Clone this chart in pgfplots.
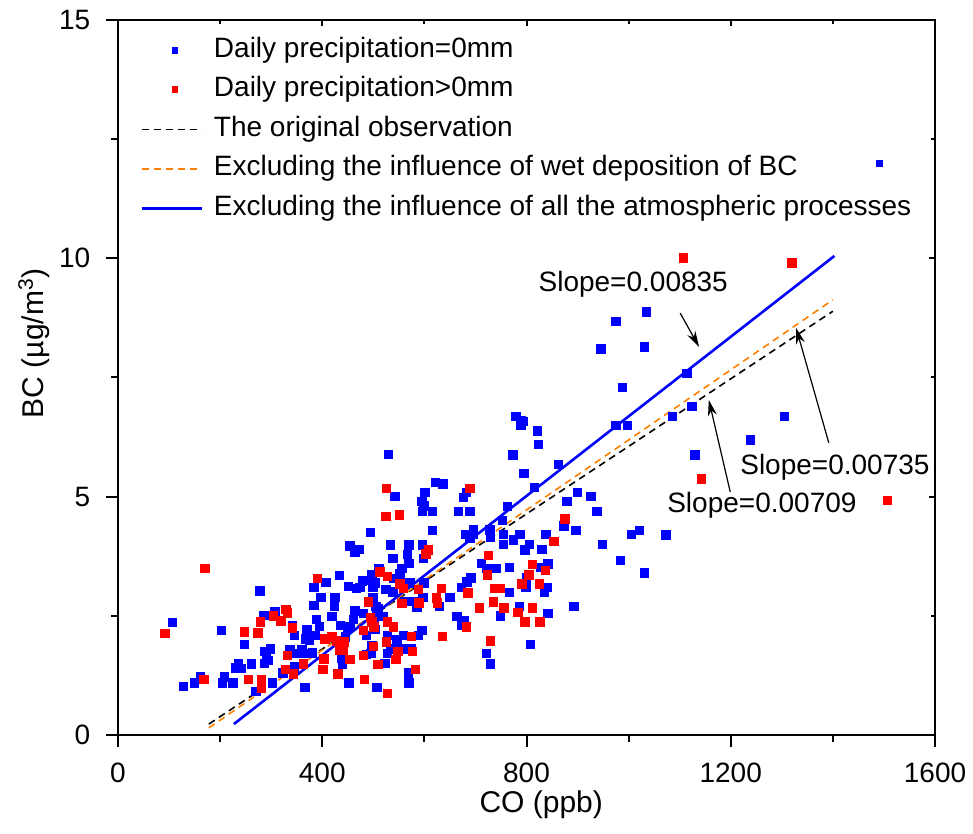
\documentclass[border=0pt]{standalone}
\usepackage{pgfplots}
\pgfplotsset{compat=1.18}
\usepackage{fontspec}
\setmainfont{Liberation Sans}
\usetikzlibrary{arrows.meta}
\definecolor{myblue}{RGB}{0,0,255}
\definecolor{myred}{RGB}{255,0,0}
\definecolor{myorange}{RGB}{255,128,0}
\pgfplotsset{linelegend/.style={legend image code/.code={\draw[##1] (0bp,0bp) -- (30bp,0bp);}}}
\begin{document}
\fontsize{14bp}{16.8bp}\selectfont
\begin{tikzpicture}
\begin{axis}[
  scale only axis, width=408.5bp, height=357.5bp,
  xmin=0, xmax=1600, ymin=0, ymax=15,
  xtick={0,400,800,1200,1600}, minor xtick={200,600,1000,1400},
  ytick={0,5,10,15}, minor ytick={2.5,7.5,12.5},
  tick align=outside, tick pos=left,
  major tick length=6bp, minor tick length=3.5bp,
  axis line style={line width=1bp},
  tick style={line width=1bp, black},
  /pgf/number format/assume math mode=true,
  /pgf/number format/1000 sep={},
  ticklabel style={font=\fontsize{14bp}{16.8bp}\selectfont},
  xticklabel style={yshift=-3bp},
  yticklabel style={xshift=-3bp},
  xlabel={CO (ppb)}, ylabel={BC (µg/m\textsuperscript{3})},
  xlabel style={at={(axis description cs:0.518,-0.098)}, anchor=center, font=\fontsize{15bp}{18bp}\selectfont},
  ylabel style={at={(axis description cs:-0.103,0.548)}, anchor=center, font=\fontsize{15bp}{18bp}\selectfont},
  legend style={at={(axis description cs:0,1)}, anchor=north west, xshift=11bp, yshift=-8.5bp,
    draw=none, fill=none, inner sep=0pt, row sep=6.75bp,
    nodes={inner sep=0pt, text height=10bp, text depth=3bp},
    font=\fontsize{14bp}{16.8bp}\selectfont,
    /tikz/every odd column/.append style={column sep=5.5bp}},
  legend cell align=left,
]
\coordinate (bl) at (rel axis cs:0,0);
\coordinate (tr) at (rel axis cs:1,1);

\addplot[only marks, mark=square*, color=myblue, mark size=2.1bp, mark options={solid, draw=myblue, fill=myblue},
  legend image code/.code={\path[draw=none] (0bp,0bp) -- (30bp,0bp); \fill[myblue, draw=none] (15bp,-1.7bp) rectangle (18bp,1.7bp);}]
coordinates {
(107,2.36)(202,2.20)(278,3.02)(307,2.58)(286,2.51)(341,2.29)(345,2.09)(247,1.90)(288,1.76)(298,1.81)
(291,1.64)(295,1.57)(287,1.50)(337,1.80)(350,1.71)(261,1.49)(236,1.50)(230,1.41)(242,1.40)(345,1.43)
(323,1.30)(161,1.22)(150,1.09)(128,1.02)(208,1.22)(205,1.09)(225,1.09)(302,1.09)(270,0.91)
(616,4.29)(494,4.25)(454,3.97)(464,3.83)(473,3.89)(533,3.99)(570,3.99)(596,3.99)(567,3.79)(598,3.70)
(538,3.70)(570,3.60)(680,4.21)(696,4.21)(696,4.30)(689,4.12)(728,4.30)(729,4.15)(712,3.60)(722,3.49)
(740,3.50)(511,3.50)(556,3.50)(552,3.38)(539,3.29)(433,3.35)(407,3.20)(384,3.10)(451,3.12)(467,3.07)
(474,3.10)(479,3.23)(497,3.37)(495,3.24)(503,3.19)(499,3.10)(525,3.05)(538,3.00)(572,3.19)(599,3.19)
(672,3.10)(683,3.21)(691,3.30)(397,2.89)(425,2.89)(499,2.88)(597,2.89)(650,2.89)(562,2.80)(578,2.80)
(384,2.72)(424,2.70)(505,2.70)(510,2.65)(585,2.68)(629,2.70)(464,2.60)(480,2.55)(419,2.49)(507,2.60)
(501,2.47)(520,2.49)(664,2.49)(678,2.41)(673,2.30)(389,2.42)(394,2.28)(370,2.21)(461,2.42)(454,2.28)
(436,2.30)(449,2.23)(503,2.21)(487,2.09)(527,2.09)(559,2.09)(588,2.09)(595,2.20)(368,2.02)(386,2.09)
(375,1.99)(445,2.06)(546,2.01)(497,1.88)(533,1.81)(546,1.81)(559,1.81)(574,1.81)(360,1.79)(368,1.71)
(381,1.72)(438,1.62)(440,1.49)(487,1.69)(495,1.71)(527,1.71)(523,1.50)(722,1.71)(729,1.49)(569,1.30)
(452,1.09)(570,1.09)(507,1.00)(366,1.00)
(529,5.89)(621,5.30)(636,5.27)(542,5.00)(601,5.09)(682,5.09)(676,4.99)(595,4.90)(599,4.81)(596,4.69)
(616,4.69)(667,4.69)(689,4.69)
(988,7.29)(1124,6.89)(1086,6.68)(779,6.69)(789,6.60)(793,6.58)(789,6.49)(821,6.38)(975,6.49)(997,6.49)
(823,6.10)(773,5.88)(1130,5.88)(862,5.68)(795,5.49)(816,5.19)(900,5.09)(926,5.00)(879,4.90)(762,4.79)
(938,4.69)(873,4.39)(753,4.50)(897,4.29)(755,4.21)(755,4.00)(787,4.21)(774,4.09)(838,4.21)(806,4.00)
(797,3.88)(830,3.90)(949,4.00)(1006,4.21)(1021,4.29)(1073,4.20)
(1114,7.59)(1035,8.88)(975,8.68)(946,8.10)(1031,8.14)(1305,6.68)(1238,6.19)
(828,3.51)(842,3.59)(800,3.30)(984,3.66)(1031,3.40)(799,3.10)(841,3.10)(835,2.99)(786,2.70)(893,2.70)
(842,2.55)(808,1.90)(766,3.51)(766,2.99)(749,2.50)
};
\addlegendentry{Daily precipitation=0mm}

\addplot[only marks, mark=square*, color=myred, mark size=2.1bp, mark options={solid, draw=myred, fill=myred},
  legend image code/.code={\path[draw=none] (0bp,0bp) -- (30bp,0bp); \fill[myred, draw=none] (15bp,-1.7bp) rectangle (18bp,1.7bp);}]
coordinates {
(170,3.50)(92,2.13)(329,2.63)(332,2.56)(304,2.50)(279,2.37)(319,2.39)(342,2.25)(248,2.16)(274,2.14)
(332,1.67)(328,1.37)(343,1.28)(168,1.17)(255,1.17)(281,1.17)(281,0.99)
(608,3.88)(603,3.80)(725,3.77)(724,3.36)(513,3.42)(527,3.33)(390,3.28)(552,3.17)(559,3.07)(588,3.05)
(633,3.07)(685,2.98)(738,3.07)(748,3.07)(623,2.88)(625,2.77)(556,2.76)(589,2.77)(490,2.79)(708,2.67)
(735,2.79)(494,2.47)(682,2.27)(497,2.37)(501,2.27)(527,2.37)(539,2.27)(480,2.20)(575,2.07)(635,2.07)
(405,2.02)(419,2.06)(428,1.97)(443,1.95)(526,1.95)(500,1.86)(729,1.97)(548,1.76)(577,1.76)(363,1.49)
(403,1.60)(433,1.78)(441,1.78)(440,1.85)(454,1.58)(480,1.67)(544,1.58)(509,1.48)(401,1.37)(431,1.28)
(583,1.37)(482,1.17)(527,0.87)
(526,5.17)(689,5.17)(525,4.58)(551,4.62)
(1143,5.37)(875,4.53)(854,4.06)
(1107,10.01)(1320,9.90)(1507,4.92)
(812,3.58)(837,3.45)(805,3.36)(791,3.17)(825,3.17)(812,2.67)(797,2.37)(826,2.37)(756,2.67)(783,2.57)
};
\addlegendentry{Daily precipitation>0mm}

\addplot[black, line width=0.8bp, dash pattern=on 3.5bp off 2.5bp, linelegend]
coordinates {(178,0.23)(1400,8.89)};
\addlegendentry{The original observation}

\addplot[myorange, line width=0.8bp, dash pattern=on 3.5bp off 2.5bp, linelegend]
coordinates {(178,0.15)(1400,9.13)};
\addlegendentry{Excluding the influence of wet deposition of BC}

\addplot[myblue, line width=1.3bp, linelegend]
coordinates {(227,0.23)(1403,10.05)};
\addlegendentry{Excluding the influence of all the atmospheric processes}

\addplot[only marks, mark=square*, color=myblue, mark size=1.5bp, forget plot]
coordinates {(1492,11.99)};

\node[inner sep=0pt] at (axis cs:1009,9.46) {Slope=0.00835};
\draw[-{Stealth[length=8bp,width=4.5bp]}, line width=0.6bp] (axis cs:1101,8.85) -- (axis cs:1138,8.14);
\node[inner sep=0pt] at (axis cs:1404,5.61) {Slope=0.00735};
\draw[-{Stealth[length=8bp,width=4.5bp]}, line width=0.6bp] (axis cs:1392,6.13) -- (axis cs:1328,8.54);
\node[inner sep=0pt] at (axis cs:1261,4.81) {Slope=0.00709};
\draw[-{Stealth[length=8bp,width=4.5bp]}, line width=0.6bp] (axis cs:1199,5.10) -- (axis cs:1157,7.03);
\end{axis}

\begin{axis}[
  scale only axis, width=408.5bp, height=357.5bp,
  xmin=0, xmax=1600, ymin=0, ymax=15,
  xtick={0,400,800,1200,1600}, minor xtick={200,600,1000,1400},
  ytick={0,5,10,15}, minor ytick={2.5,7.5,12.5},
  tick align=inside, tick pos=right,
  major tick length=3bp, minor tick length=2bp,
  xticklabels={}, yticklabels={},
  axis line style={line width=1bp},
  tick style={line width=1bp, black},
]
\addplot[draw=none] coordinates {(0,0)};
\end{axis}

\pgfresetboundingbox
\path ([shift={(-59bp,-49.5bp)}]bl) rectangle ([shift={(19bp,10bp)}]tr);
\end{tikzpicture}
\end{document}
